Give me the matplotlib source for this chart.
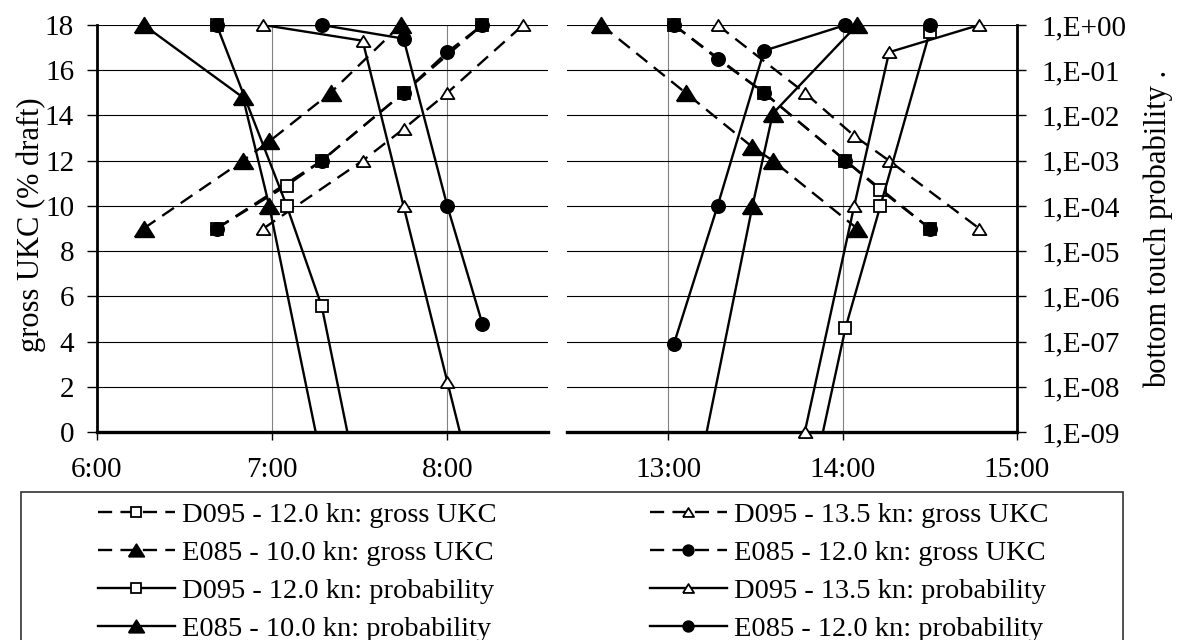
import numpy as np
import matplotlib.pyplot as plt
from matplotlib.lines import Line2D
from matplotlib.patches import Rectangle
from matplotlib.ticker import FuncFormatter, NullLocator

plt.rcParams["font.family"] = "Liberation Serif"


def to_hours(stamps):
    out = []
    for s in stamps:
        h, m = s.split(":")
        out.append(int(h) + int(m) / 60)
    return np.array(out)


# morning window (rising tide): gross UKC (% draft) and bottom touch probability
am_d12_time = ["6:41", "7:05", "7:17", "7:45", "8:12"]
am_d12_ukc = [9, 10.9, 12, 15, 18]
am_d12_prob = [1, 1e-4, 6e-7, 8e-16, 1e-24]

am_d135_time = ["6:57", "7:31", "7:45", "8:00", "8:26"]
am_d135_ukc = [9, 12, 13.4, 15, 18]
am_d135_prob = [1, 0.45, 1e-4, 1.3e-8, 2.5e-15]

am_e10_time = ["6:16", "6:50", "6:59", "7:20", "7:44"]
am_e10_ukc = [9, 12, 12.85, 15, 18]
am_e10_prob = [1, 0.025, 1e-4, 2.5e-11, 1e-18]

am_e12_time = ["6:41", "7:17", "7:45", "8:00", "8:12"]
am_e12_ukc = [9, 12, 15, 16.8, 18]
am_e12_prob = [1, 1, 0.5, 1e-4, 2.5e-7]

# afternoon window (falling tide)
pm_d12_time = ["13:02", "13:33", "14:01", "14:13", "14:30"]
pm_d12_ukc = [18, 15, 12, 10.7, 9]
pm_d12_prob = [1e-24, 1e-15, 2e-7, 1e-4, 0.7]

pm_d135_time = ["13:17", "13:47", "14:04", "14:16", "14:47"]
pm_d135_ukc = [18, 15, 13.1, 12, 9]
pm_d135_prob = [1e-18, 1e-9, 1e-4, 0.25, 1]

pm_e10_time = ["12:37", "13:06", "13:29", "13:36", "14:05"]
pm_e10_ukc = [18, 15, 12.6, 12, 9]
pm_e10_prob = [1e-20, 5e-12, 1e-4, 0.011, 1]

pm_e12_time = ["13:02", "13:17", "13:33", "14:01", "14:30"]
pm_e12_ukc = [18, 16.5, 15, 12, 9]
pm_e12_prob = [9e-8, 1e-4, 0.27, 1, 1]

ships = ["D095 - 12.0 kn", "D095 - 13.5 kn", "E085 - 10.0 kn", "E085 - 12.0 kn"]
am_runs = {
    ships[0]: (am_d12_time, am_d12_ukc, am_d12_prob),
    ships[1]: (am_d135_time, am_d135_ukc, am_d135_prob),
    ships[2]: (am_e10_time, am_e10_ukc, am_e10_prob),
    ships[3]: (am_e12_time, am_e12_ukc, am_e12_prob),
}
pm_runs = {
    ships[0]: (pm_d12_time, pm_d12_ukc, pm_d12_prob),
    ships[1]: (pm_d135_time, pm_d135_ukc, pm_d135_prob),
    ships[2]: (pm_e10_time, pm_e10_ukc, pm_e10_prob),
    ships[3]: (pm_e12_time, pm_e12_ukc, pm_e12_prob),
}

tri = [(-1, -0.8), (1, -0.8), (0, 0.8), (-1, -0.8)]
marks = {
    ships[0]: dict(marker="s", markersize=8.5, markerfacecolor="white"),
    ships[1]: dict(marker=tri, markersize=10, markerfacecolor="white"),
    ships[2]: dict(marker=tri, markersize=14, markerfacecolor="black"),
    ships[3]: dict(marker="o", markersize=9.5, markerfacecolor="black"),
}
DASH = (0, (6, 3.5))
LW = 1.7
FS = 21

fig = plt.figure(figsize=(11.78, 6.4), dpi=100)
ax_am = fig.add_axes([97 / 1178, 1 - 432 / 640, 451 / 1178, 407 / 640])
ax_pm = fig.add_axes([567 / 1178, 1 - 432 / 640, 450 / 1178, 407 / 640])
ax_am.set_xlim(6, 8.575)
ax_pm.set_xlim(12.42, 15)

hhmm = FuncFormatter(lambda h, pos: f"{int(h)}:{int(round((h % 1) * 60)):02d}")
prob_fmt = FuncFormatter(lambda p, pos: f"1,E{int(round(np.log10(p))):+03d}")

twins = []
for ax, ticks, runs in [(ax_am, [6, 7, 8], am_runs), (ax_pm, [13, 14, 15], pm_runs)]:
    ax.set_ylim(0, 18)
    ax.set_yticks(range(0, 19, 2))
    ax.set_xticks(ticks)
    ax.xaxis.set_major_formatter(hhmm)
    ax.grid(axis="y", color="black", lw=0.8)
    ax.grid(axis="x", color="#808080", lw=0.8)
    ax.set_axisbelow(True)
    for s in ["top", "right", "left"]:
        ax.spines[s].set_visible(False)
    ax.spines["bottom"].set_linewidth(2.4)
    ax.tick_params(axis="x", direction="out", length=6, width=1, pad=12, labelsize=FS)
    ax.tick_params(axis="y", direction="out", length=7.5, width=1, pad=9, labelsize=FS)

    axp = ax.twinx()
    axp.set_yscale("log")
    axp.set_ylim(1e-9, 1)
    axp.set_yticks([10.0 ** k for k in range(-9, 1)])
    axp.yaxis.set_minor_locator(NullLocator())
    axp.yaxis.set_major_formatter(prob_fmt)
    for s in axp.spines.values():
        s.set_visible(False)
    twins.append(axp)

    # dashed gross UKC and solid probability curves
    for ship in ships:
        t, ukc, prob = runs[ship]
        x = to_hours(t)
        ax.plot(x, ukc, color="black", lw=LW, ls=DASH, zorder=2)
        axp.plot(x, prob, color="black", lw=LW, ls="-", zorder=2)
    for ship in ships:
        t, ukc, prob = runs[ship]
        x = to_hours(t)
        p = np.array(prob)
        inside = p >= 0.99e-9
        ax.plot(x, ukc, ls="none", markeredgecolor="black", markeredgewidth=1.3,
                clip_on=False, zorder=3, **marks[ship])
        axp.plot(x[inside], p[inside], ls="none", markeredgecolor="black",
                 markeredgewidth=1.3, clip_on=False, zorder=3, **marks[ship])

ax_am.spines["left"].set_visible(True)
ax_am.spines["left"].set_linewidth(2)
ax_pm.tick_params(axis="y", left=False, labelleft=False)

twins[0].tick_params(axis="y", right=False, labelright=False)
twins[1].spines["right"].set_visible(True)
twins[1].spines["right"].set_linewidth(2)
twins[1].tick_params(axis="y", direction="out", length=6.5, width=1, pad=11, labelsize=FS)

ax_am.set_ylabel("gross UKC (% draft)", fontsize=22)
ax_am.yaxis.set_label_coords(-0.146, 0.51)
ax_am.yaxis.label.set_verticalalignment("center")
twins[1].set_ylabel("bottom touch probability .", fontsize=22)
twins[1].yaxis.set_label_coords(1.314, 0.5)
twins[1].yaxis.label.set_verticalalignment("center")

# legend, two columns inside one outlined box
def handle(ship, ls):
    return Line2D([], [], color="black", lw=LW, ls=ls, markeredgecolor="black",
                  markeredgewidth=1.3, **marks[ship])

columns = [(ships[0], ships[2]), (ships[1], ships[3])]
for col, x0 in zip(columns, [98, 650]):
    hs, labels = [], []
    for kind, ls in [("gross UKC", DASH), ("probability", "-")]:
        for ship in col:
            hs.append(handle(ship, ls))
            labels.append(f"{ship}: {kind}")
    fig.legend(hs, labels, loc="upper left", bbox_to_anchor=(x0 / 1178, 1 - 502 / 640),
               frameon=False, fontsize=20.5, handlelength=2.7, handletextpad=0.25,
               labelspacing=0.42, borderpad=0, borderaxespad=0, numpoints=1,
               markerscale=0.8)

fig.add_artist(Rectangle((21 / 1178, -0.05), 1102 / 1178, 1 - 492 / 640 + 0.05,
                         transform=fig.transFigure, fill=False, lw=1.2, ec="#333333"))

fig.savefig("out.png", dpi=100)
